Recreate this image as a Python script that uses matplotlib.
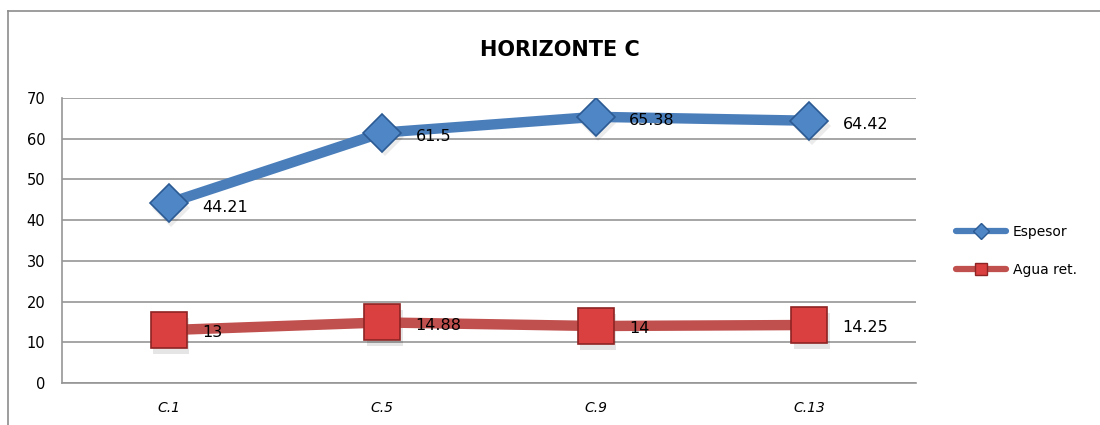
import matplotlib
matplotlib.use("Agg")
import matplotlib.pyplot as plt
from matplotlib.lines import Line2D

# datos del horizonte C
muestras = ["C.1", "C.5", "C.9", "C.13"]
espesor = [44.21, 61.5, 65.38, 64.42]
agua_ret = [13, 14.88, 14, 14.25]

fig = plt.figure(figsize=(11, 4.25), dpi=100)
ax = fig.add_axes([0.0564, 0.0988, 0.7764, 0.6706])

x = range(len(muestras))

# sombra de los marcadores
ax.plot([i + 0.012 for i in x], [v - 1.2 for v in espesor], ls="none", marker="D",
        ms=19.5, color="#000000", alpha=0.08, mew=0, zorder=2)
ax.plot([i + 0.012 for i in x], [v - 1.4 for v in agua_ret], ls="none", marker="s",
        ms=26.5, color="#000000", alpha=0.10, mew=0, zorder=2)

ax.plot(x, espesor, color="#4a7ebb", lw=7.5, marker="D", ms=19.5,
        markerfacecolor="#4f86c6", markeredgecolor="#2c5a92", mew=1.2,
        zorder=3)
ax.plot(x, agua_ret, color="#c0504d", lw=7.5, marker="s", ms=26.5,
        markerfacecolor="#d9403f", markeredgecolor="#8e2424", mew=1.2,
        zorder=3)

# etiquetas de valores
for i, v in enumerate(espesor):
    ax.annotate(str(v), (i, v), xytext=(24, -3), textcoords="offset points",
                ha="left", va="center", fontsize=11.5, zorder=5)
for i, v in enumerate(agua_ret):
    ax.annotate(str(v), (i, v), xytext=(24, -2), textcoords="offset points",
                ha="left", va="center", fontsize=11.5, zorder=5)

ax.set_xlim(-0.5, 3.5)
ax.set_ylim(0, 70)
ax.set_yticks(range(0, 71, 10))
ax.set_xticks(list(x))
ax.set_xticklabels(muestras, fontstyle="italic")
ax.tick_params(axis="y", length=0, pad=12, labelsize=10.5)
ax.tick_params(axis="x", length=0, pad=13, labelsize=10)

ax.grid(axis="y", color="#969696", lw=1.2)
ax.set_axisbelow(True)
for s in ["top", "right"]:
    ax.spines[s].set_visible(False)
for s in ["left", "bottom"]:
    ax.spines[s].set_color("#969696")
    ax.spines[s].set_linewidth(1.2)

fig.text(0.509, 0.882, "HORIZONTE C", ha="center", va="center",
         fontsize=15, fontweight="bold")

# leyenda con lineas mas delgadas
h_esp = Line2D([], [], color="#4a7ebb", lw=4.5, marker="D", ms=8,
               markerfacecolor="#4f86c6", markeredgecolor="#2c5a92",
               solid_capstyle="round")
h_agua = Line2D([], [], color="#c0504d", lw=4.5, marker="s", ms=9,
                markerfacecolor="#d9403f", markeredgecolor="#8e2424",
                solid_capstyle="round")
fig.legend([h_esp, h_agua], ["Espesor", "Agua ret."], loc="center left",
           bbox_to_anchor=(0.869, 0.409), frameon=False, fontsize=10,
           handlelength=3.6, labelspacing=1.75, borderpad=0,
           borderaxespad=0, handletextpad=0.5)

# marco del grafico
fig.add_artist(Line2D([0.0073, 0.0073], [0, 0.974], color="#8c8c8c", lw=1.2))
fig.add_artist(Line2D([0.0073, 1], [0.974, 0.974], color="#8c8c8c", lw=1.2))

fig.savefig("out.png", dpi=100)
